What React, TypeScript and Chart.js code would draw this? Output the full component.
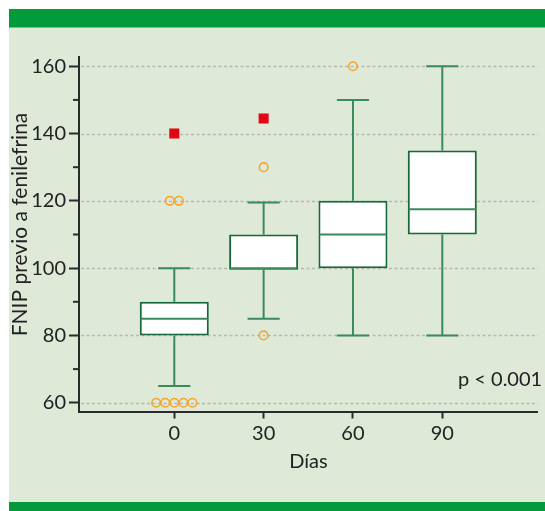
import React, { useEffect, useRef } from "react";
import { Chart, registerables } from "chart.js";

Chart.register(...registerables);

// ---- data ----
const DAYS = [0, 30, 60, 90];
const WHISKER_LOW = [65, 85, 80, 80];
const Q1 = [80, 99.5, 100, 110];
const MEDIAN = [85, 100, 110, 117.5];
const Q3 = [90, 110, 120, 135];
const WHISKER_HIGH = [100, 119.5, 150, 160];
const OUTLIERS = [[120, 120, 60, 60, 60, 60, 60], [130, 80], [160], []];
const EXTREMES = [[140], [144.5], [], []];
const Y_TICKS = [60, 70, 80, 90, 100, 110, 120, 130, 140, 150, 160];
const X_TICKS = [0, 30, 60, 90];
const X_TITLE = "Días";
const Y_TITLE = "FNIP previo a fenilefrina";
const P_TEXT = "p < 0.001";

// ---- style ----
const FONT = "Lato, 'Open Sans', sans-serif";
const TEXT = "#222222";
const BOX_BORDER = "#17693c";
const WHISKER = "#3a8a5c";
const ORANGE = "#f5a62c";
const RED = "#e30613";
const BG = "#dee9d8";
const BAR_GREEN = "#039a3d";
const CAP_HALF_DAYS = 5.4;
const JITTER_DAYS = 3.05;

const isMajor = (v: number) => v % 20 === 0;

function buildWhiskers() {
  const pts: { x: number; y: number | null }[] = [];
  DAYS.forEach((d, i) => {
    pts.push(
      { x: d, y: Q3[i] }, { x: d, y: WHISKER_HIGH[i] }, { x: d, y: null },
      { x: d - CAP_HALF_DAYS, y: WHISKER_HIGH[i] }, { x: d + CAP_HALF_DAYS, y: WHISKER_HIGH[i] }, { x: d, y: null },
      { x: d, y: Q1[i] }, { x: d, y: WHISKER_LOW[i] }, { x: d, y: null },
      { x: d - CAP_HALF_DAYS, y: WHISKER_LOW[i] }, { x: d + CAP_HALF_DAYS, y: WHISKER_LOW[i] }, { x: d, y: null }
    );
  });
  return pts;
}

function spread(groups: number[][]) {
  const pts: { x: number; y: number }[] = [];
  groups.forEach((vals, i) => {
    const counts: Record<string, number> = {};
    vals.forEach((v) => (counts[v] = (counts[v] || 0) + 1));
    const seen: Record<string, number> = {};
    vals.forEach((v) => {
      const n = counts[v];
      const k = seen[v] || 0;
      seen[v] = k + 1;
      pts.push({ x: DAYS[i] + (k - (n - 1) / 2) * JITTER_DAYS, y: v });
    });
  });
  return pts;
}

const backgroundPlugin = {
  id: "bgFrame",
  beforeDraw(chart: any) {
    const { ctx, width, height } = chart;
    ctx.save();
    ctx.fillStyle = "#ffffff";
    ctx.fillRect(0, 0, width, height);
    ctx.fillStyle = BG;
    ctx.fillRect(9, 9, width - 9, height - 9);
    ctx.fillStyle = BAR_GREEN;
    ctx.fillRect(9, 9, width - 9, 18.5);
    ctx.fillRect(9, 502, width - 9, height - 502);
    ctx.restore();
  },
};

const gridPlugin = {
  id: "dashGrid",
  beforeDatasetsDraw(chart: any) {
    const { ctx, chartArea } = chart;
    const y = chart.scales.y;
    ctx.save();
    ctx.strokeStyle = "#b5b9b3";
    ctx.lineWidth = 1.5;
    ctx.setLineDash([3, 2.5]);
    Y_TICKS.filter(isMajor).forEach((v) => {
      const py = Math.round(y.getPixelForValue(v)) + 0.5;
      ctx.beginPath();
      ctx.moveTo(chartArea.left + 2, py);
      ctx.lineTo(chartArea.right, py);
      ctx.stroke();
    });
    ctx.restore();
  },
};

const overlayPlugin = {
  id: "overlay",
  afterDatasetsDraw(chart: any) {
    const { ctx } = chart;
    const y = chart.scales.y;
    const meta = chart.getDatasetMeta(2);
    ctx.save();
    ctx.strokeStyle = WHISKER;
    ctx.lineWidth = 2;
    meta.data.forEach((el: any, i: number) => {
      const py = y.getPixelForValue(MEDIAN[i]);
      const half = el.width / 2;
      ctx.beginPath();
      ctx.moveTo(el.x - half + 1, py);
      ctx.lineTo(el.x + half - 1, py);
      ctx.stroke();
    });
    ctx.restore();
  },
  afterDraw(chart: any) {
    const { ctx, chartArea } = chart;
    const y = chart.scales.y;
    ctx.save();
    ctx.strokeStyle = "#2b2b2b";
    ctx.lineWidth = 2;
    Y_TICKS.filter((v) => !isMajor(v)).forEach((v) => {
      const py = y.getPixelForValue(v);
      ctx.beginPath();
      ctx.moveTo(chartArea.left - 6, py);
      ctx.lineTo(chartArea.left, py);
      ctx.stroke();
    });
    ctx.fillStyle = TEXT;
    ctx.font = `21px ${FONT}`;
    ctx.textAlign = "center";
    ctx.textBaseline = "middle";
    ctx.translate(20, 224.5);
    ctx.rotate(-Math.PI / 2);
    ctx.fillText(Y_TITLE, 0, 0);
    ctx.restore();
    ctx.save();
    ctx.fillStyle = TEXT;
    ctx.font = `20px ${FONT}`;
    ctx.textAlign = "left";
    ctx.textBaseline = "alphabetic";
    ctx.fillText(P_TEXT, 458, 386);
    ctx.restore();
  },
};

export default function App() {
  const ref = useRef<HTMLCanvasElement>(null);
  useEffect(() => {
    const canvas = ref.current!;
    const chart = new Chart(canvas, {
      type: "bar",
      data: {
        datasets: [
          {
            type: "scatter",
            label: "extremes",
            data: spread(EXTREMES),
            pointStyle: "rect",
            pointRadius: 7.1,
            backgroundColor: RED,
            borderColor: RED,
            borderWidth: 0,
          } as any,
          {
            type: "scatter",
            label: "outliers",
            data: spread(OUTLIERS),
            pointStyle: "circle",
            pointRadius: 4.3,
            backgroundColor: "rgba(0,0,0,0)",
            borderColor: ORANGE,
            borderWidth: 1.6,
          } as any,
          {
            type: "bar",
            label: "box",
            data: DAYS.map((d, i) => ({ x: d, y: [Q1[i], Q3[i]] })),
            backgroundColor: "#ffffff",
            borderColor: BOX_BORDER,
            borderWidth: 2,
            borderSkipped: false,
            barThickness: 69,
            inflateAmount: 0,
          } as any,
          {
            type: "line",
            label: "whiskers",
            data: buildWhiskers(),
            borderColor: WHISKER,
            borderWidth: 2,
            pointRadius: 0,
            spanGaps: false,
            tension: 0,
            fill: false,
          } as any,
        ],
      },
      options: {
        animation: false,
        responsive: false,
        devicePixelRatio: 1,
        events: [],
        layout: { padding: { top: 57, left: 0, right: 0, bottom: 0 } },
        plugins: { legend: { display: false }, tooltip: { enabled: false } },
        scales: {
          x: {
            type: "linear",
            offset: false,
            min: -32,
            max: 122.1,
            afterFit: (s: any) => {
              s.height = 99.5;
              s.paddingLeft = 0;
              s.paddingRight = 0;
            },
            afterBuildTicks: (s: any) => {
              s.ticks = X_TICKS.map((v) => ({ value: v }));
            },
            ticks: {
              color: TEXT,
              font: { family: FONT, size: 20 },
              padding: 3,
              maxRotation: 0,
              autoSkip: false,
              callback: (v: any) => String(v),
            },
            grid: {
              offset: false,
              drawOnChartArea: false,
              drawTicks: true,
              tickLength: 7,
              tickWidth: 2,
              tickColor: "#2b2b2b",
            },
            border: { display: true, color: "#2b2b2b", width: 2 },
            title: {
              display: true,
              text: X_TITLE,
              color: TEXT,
              font: { family: FONT, size: 20 },
              padding: { top: 0, bottom: 37.5 },
            },
          },
          y: {
            type: "linear",
            min: 57.4,
            max: 162.75,
            afterFit: (s: any) => {
              s.width = 79;
              s.paddingTop = 0;
              s.paddingBottom = 0;
            },
            afterBuildTicks: (s: any) => {
              s.ticks = Y_TICKS.map((v) => ({ value: v }));
            },
            ticks: {
              color: TEXT,
              font: { family: FONT, size: 20 },
              padding: 3,
              autoSkip: false,
              callback: (v: any) => (isMajor(Number(v)) ? String(v) : ""),
            },
            grid: {
              drawOnChartArea: false,
              drawTicks: true,
              tickLength: 10,
              tickWidth: 2,
              tickColor: (c: any) => (c.tick && isMajor(c.tick.value) ? "#2b2b2b" : "rgba(0,0,0,0)"),
            },
            border: { display: true, color: "#2b2b2b", width: 2 },
          },
        },
      } as any,
      plugins: [backgroundPlugin, gridPlugin, overlayPlugin],
    });
    return () => chart.destroy();
  }, []);
  return (
    <div style={{ position: "fixed", left: 0, top: 0, width: 545, height: 511 }}>
      <canvas ref={ref} width={545} height={511} style={{ display: "block", width: 545, height: 511 }} />
    </div>
  );
}
